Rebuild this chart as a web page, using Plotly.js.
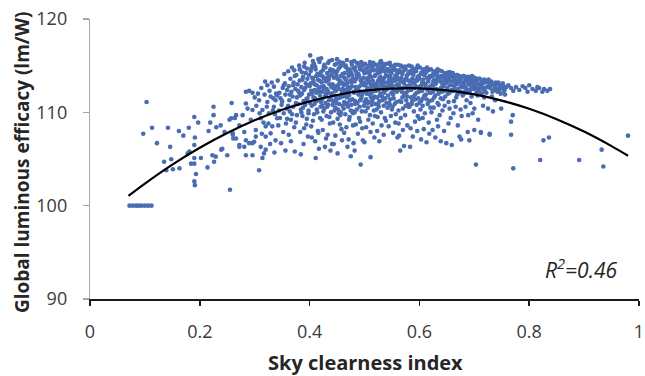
<!DOCTYPE html>
<html>
<head>
<meta charset="utf-8">
<script src="https://cdn.plot.ly/plotly-3.0.1.min.js"></script>
<style>html,body{margin:0;padding:0;background:#fff;}#chart{width:645px;height:376px;}</style>
</head>
<body>
<div id="chart"></div>
<script>
// ---- data (sky clearness index, global luminous efficacy lm/W) ----
const overcastRow = [[0.072,100],[0.078,100],[0.084,100],[0.089,100],[0.094,100],[0.100,100],[0.106,100],[0.112,100]];

const lowSkyPts = [[0.103,111.1],[0.113,108.35],[0.097,107.7],[0.122,106.7],[0.142,108.35],[0.146,106.3],[0.162,108.0],[0.170,107.5],[0.180,108.35],[0.190,109.5],[0.197,108.9],[0.191,107.3],[0.216,108.0],[0.225,110.6],[0.225,109.7],[0.219,108.9],[0.230,108.4],[0.258,111.0],[0.254,109.2],[0.264,109.4],
[0.135,104.7],[0.148,104.97],[0.139,103.8],[0.151,103.9],[0.163,104.0],[0.178,105.6],[0.181,105.8],[0.190,106.5],[0.184,104.5],[0.190,104.5],[0.19,105.1],[0.193,103.4],[0.19,102.6],[0.191,102.2],[0.202,105.1],[0.214,104.1],[0.226,104.7],[0.229,105.25],[0.223,105.4],[0.239,106.0],[0.241,106.1],[0.25,105.4],[0.255,101.7],[0.26,107.6],[0.266,107.2],[0.272,106.5],[0.26,107.75],[0.261,107.2],[0.272,106.3],[0.245,107.9],[0.238,108.6]];

const riseSkyPts = [[0.284,112.2],[0.290,112.3],[0.296,112.1],[0.306,112.0],[0.323,112.9],[0.335,112.75],[0.284,110.95],[0.287,110.4],[0.308,111.3],[0.284,107.0],[0.296,106.7],[0.311,106.3],[0.32,108.5],[0.329,107.75],[0.338,107.0],[0.314,110.25],[0.326,109.9],[0.335,110.6],[0.281,106.3],[0.29,106.7],[0.296,105.4],[0.299,106.85],[0.302,107.4],[0.284,105.4],[0.308,103.8],[0.314,105.1],[0.317,105.6],[0.32,106.0],
[0.257,109.36],[0.266,109.7],[0.272,108.6],[0.281,107.9],[0.293,109.2],[0.302,108.1],[0.311,109.36],[0.32,107.4],[0.332,108.5],[0.341,109.36],[0.278,109.7],[0.296,110.25],[0.323,111.1],[0.338,111.3],[0.329,111.7],
[0.312,112.6],[0.318,111.9],[0.322,110.6],[0.327,112.3],[0.331,113.2],[0.334,111.5],[0.337,109.8],[0.316,108.9],[0.325,108.8],[0.333,110.2],[0.303,110.7],[0.309,109.9],[0.319,113.3],[0.339,112.0],[0.328,106.6],[0.336,105.7],[0.3,111.6],[0.313,107.7]];

const cloudA = [[0.342,113.4],[0.345,112.1],[0.347,111.5],[0.349,110.8],[0.351,112.6],[0.353,109.9],[0.355,113.1],[0.356,111.9],[0.358,110.4],[0.343,108.6],[0.346,109.4],[0.352,107.9],[0.357,108.8],[0.359,112.4],[0.344,110.2],[0.35,111.2],[0.354,114.1],[0.348,106.7],[0.356,105.9],[0.359,109.3],[0.341,111.8],[0.353,112.9],
[0.361,114.4],[0.362,112.8],[0.363,111.3],[0.364,110.1],[0.365,113.6],[0.366,109.2],[0.367,112.2],[0.368,114.8],[0.369,111.7],[0.37,110.6],[0.371,113.2],[0.372,108.4],[0.373,105.8],[0.374,112.5],[0.375,111.0],[0.376,114.0],[0.377,109.7],[0.378,113.0],[0.379,110.9],[0.362,107.6],[0.366,106.9],[0.37,112.9],[0.373,113.9],[0.377,111.6],[0.364,111.9],[0.368,109.8],[0.375,108.9],[0.379,112.3],[0.361,110.7],[0.372,114.5],
[0.381,115.0],[0.382,113.4],[0.383,111.8],[0.384,110.3],[0.385,112.7],[0.386,114.3],[0.387,109.6],[0.388,113.8],[0.389,111.2],[0.39,112.4],[0.391,115.3],[0.392,110.8],[0.393,113.1],[0.394,108.7],[0.395,114.7],[0.396,111.5],[0.397,112.9],[0.398,109.9],[0.399,114.0],[0.381,112.1],[0.383,107.9],[0.385,110.0],[0.387,113.5],[0.389,106.6],[0.391,111.0],[0.393,114.2],[0.395,109.3],[0.397,107.4],[0.399,111.9],[0.382,114.6],[0.384,105.5],[0.386,112.0],[0.388,110.5],[0.39,114.9],[0.392,112.6],[0.394,111.4],[0.396,113.6],[0.398,110.2],[0.4,112.8],[0.39,108.3]];

const cloudB = [[0.401,116.1],[0.402,114.4],[0.403,112.3],[0.404,110.7],[0.405,113.7],[0.406,115.5],[0.407,111.6],[0.408,109.8],[0.409,113.0],[0.41,114.9],[0.411,105.1],[0.412,112.1],[0.413,110.3],[0.414,114.1],[0.415,111.3],[0.416,115.7],[0.417,106.1],[0.418,113.4],[0.419,109.4],[0.42,112.7],[0.401,111.0],[0.403,108.5],[0.405,115.0],[0.407,113.3],[0.409,110.9],[0.411,114.6],[0.413,112.9],[0.415,108.0],[0.417,114.0],[0.419,111.8],[0.402,113.1],[0.404,112.0],[0.406,109.1],[0.408,115.2],[0.41,111.5],[0.412,113.9],[0.414,110.0],[0.416,112.5],[0.418,115.4],[0.42,110.6],[0.404,107.3],[0.41,106.9],[0.416,107.8],[0.406,113.6],[0.412,111.2],[0.418,112.2],[0.403,114.7],[0.409,112.4],[0.415,113.5],[0.42,114.3],
[0.421,115.8],[0.422,113.2],[0.423,111.4],[0.424,114.5],[0.425,110.1],[0.426,112.8],[0.427,115.1],[0.428,106.3],[0.429,113.7],[0.43,111.9],[0.431,109.6],[0.432,114.2],[0.433,112.3],[0.434,110.8],[0.435,113.5],[0.436,115.5],[0.437,108.8],[0.438,105.9],[0.439,112.0],[0.44,114.0],[0.421,111.1],[0.423,113.9],[0.425,112.6],[0.427,110.4],[0.429,114.8],[0.431,112.5],[0.433,107.6],[0.435,111.3],[0.437,114.4],[0.439,110.0],[0.422,109.2],[0.424,112.2],[0.426,114.9],[0.428,111.7],[0.43,113.3],[0.432,110.6],[0.434,115.3],[0.436,113.0],[0.438,111.5],[0.44,112.7],[0.441,106.6],[0.424,108.1],[0.43,107.2],[0.436,109.5],[0.426,113.6],[0.432,112.1],[0.438,114.6],[0.423,110.7],[0.429,111.0],[0.435,113.8]];

const cloudC = [[0.441,115.6],[0.442,113.0],[0.443,111.2],[0.444,106.6],[0.445,114.3],[0.446,112.4],[0.447,110.5],[0.448,113.8],[0.449,115.2],[0.45,111.7],[0.451,109.3],[0.452,112.9],[0.453,114.7],[0.454,110.9],[0.455,113.4],[0.456,111.6],[0.457,115.0],[0.458,108.2],[0.459,112.2],[0.46,114.1],[0.441,112.0],[0.443,114.5],[0.445,110.2],[0.447,112.8],[0.449,111.0],[0.451,113.6],[0.453,112.5],[0.455,115.4],[0.457,110.0],[0.459,113.2],[0.442,110.8],[0.444,112.6],[0.446,115.1],[0.448,111.4],[0.45,114.4],[0.452,110.3],[0.454,113.1],[0.456,114.9],[0.458,111.9],[0.46,112.5],[0.443,108.9],[0.447,107.5],[0.451,105.6],[0.455,108.7],[0.459,107.0],[0.444,113.7],[0.448,112.3],[0.452,111.5],[0.456,109.7],[0.46,110.7],[0.445,111.8],[0.449,114.0],[0.453,109.9],[0.457,113.9],[0.45,115.7],
[0.461,115.3],[0.462,112.9],[0.463,111.1],[0.464,114.2],[0.465,109.8],[0.466,113.5],[0.467,112.1],[0.468,115.6],[0.469,106.3],[0.47,110.6],[0.471,113.9],[0.472,111.8],[0.473,114.6],[0.474,112.6],[0.475,110.2],[0.476,113.2],[0.477,115.1],[0.478,111.4],[0.479,108.6],[0.48,106.7],[0.461,111.7],[0.463,113.7],[0.465,112.4],[0.467,114.8],[0.469,111.0],[0.471,112.3],[0.473,109.5],[0.475,114.3],[0.477,112.8],[0.479,113.6],[0.462,110.4],[0.464,112.0],[0.466,115.0],[0.468,113.1],[0.47,114.5],[0.472,109.2],[0.474,111.3],[0.476,115.4],[0.478,114.0],[0.48,112.2],[0.463,107.8],[0.467,108.4],[0.471,107.1],[0.475,105.3],[0.479,109.9],[0.464,113.0],[0.468,111.6],[0.472,114.1],[0.476,110.8],[0.48,114.7],[0.466,110.9],[0.47,112.7],[0.474,113.4],[0.478,110.1],[0.465,114.9]];

const cloudD = [[0.481,115.5],[0.482,113.3],[0.483,111.2],[0.484,114.4],[0.485,112.5],[0.486,110.3],[0.487,113.8],[0.488,115.2],[0.489,111.9],[0.49,109.4],[0.491,112.8],[0.492,114.6],[0.493,104.4],[0.494,111.5],[0.495,113.1],[0.496,115.0],[0.497,107.0],[0.498,112.2],[0.499,110.7],[0.5,114.2],[0.481,112.1],[0.483,114.8],[0.485,113.6],[0.487,111.0],[0.489,114.1],[0.491,110.6],[0.493,113.4],[0.495,111.8],[0.497,114.5],[0.499,112.9],[0.482,110.0],[0.484,112.7],[0.486,115.3],[0.488,112.4],[0.49,113.9],[0.492,111.3],[0.494,115.4],[0.496,112.0],[0.498,113.7],[0.5,111.1],[0.484,108.7],[0.488,107.7],[0.492,109.0],[0.496,108.3],[0.5,106.8],[0.483,110.9],[0.487,112.6],[0.491,114.9],[0.495,110.1],[0.499,113.2],[0.486,114.0],[0.49,112.3],[0.494,113.5],[0.498,115.1],[0.482,105.9],
[0.501,115.2],[0.502,113.0],[0.503,111.4],[0.504,114.3],[0.505,112.6],[0.506,110.5],[0.507,113.7],[0.508,115.0],[0.509,111.9],[0.51,109.7],[0.511,105.2],[0.512,112.9],[0.513,114.6],[0.514,111.2],[0.515,113.4],[0.516,115.3],[0.517,110.2],[0.518,107.3],[0.519,112.3],[0.52,114.0],[0.501,112.2],[0.503,114.7],[0.505,113.5],[0.507,111.1],[0.509,114.1],[0.511,112.5],[0.513,110.8],[0.515,114.9],[0.517,112.8],[0.519,113.9],[0.502,110.1],[0.504,112.0],[0.506,114.8],[0.508,113.2],[0.51,114.4],[0.512,111.6],[0.514,115.1],[0.516,113.0],[0.518,111.7],[0.52,112.6],[0.503,108.4],[0.507,109.2],[0.511,107.9],[0.515,108.8],[0.519,109.6],[0.504,113.6],[0.508,112.4],[0.512,113.8],[0.516,111.5],[0.52,110.9],[0.505,111.0],[0.509,113.3],[0.513,112.1],[0.517,114.5],[0.51,115.4]];

const cloudE = [[0.521,115.1],[0.522,113.1],[0.523,111.6],[0.524,114.2],[0.525,112.4],[0.526,110.6],[0.527,113.6],[0.528,115.3],[0.529,112.0],[0.53,110.0],[0.531,113.0],[0.532,114.7],[0.533,111.3],[0.534,113.5],[0.535,112.2],[0.536,115.0],[0.537,109.4],[0.538,112.7],[0.539,114.0],[0.54,111.0],[0.521,112.3],[0.523,114.6],[0.525,113.4],[0.527,111.2],[0.529,114.3],[0.531,112.6],[0.533,114.9],[0.535,110.7],[0.537,113.2],[0.539,112.4],[0.522,110.3],[0.524,112.8],[0.526,114.9],[0.528,113.3],[0.53,114.5],[0.532,111.7],[0.534,115.2],[0.536,113.7],[0.538,111.5],[0.54,113.9],[0.523,108.0],[0.527,106.9],[0.531,108.6],[0.535,107.6],[0.539,109.1],[0.524,109.5],[0.528,111.8],[0.532,113.4],[0.536,112.1],[0.54,114.6],[0.525,110.9],[0.529,113.8],[0.533,112.9],[0.537,114.4],[0.53,115.5],
[0.541,115.2],[0.542,113.2],[0.543,111.8],[0.544,114.4],[0.545,112.6],[0.546,110.8],[0.547,113.8],[0.548,115.0],[0.549,112.1],[0.55,110.3],[0.551,113.3],[0.552,114.8],[0.553,111.5],[0.554,113.6],[0.555,112.4],[0.556,115.1],[0.557,109.8],[0.558,112.9],[0.559,114.1],[0.56,107.3],[0.541,112.5],[0.543,114.6],[0.545,113.5],[0.547,111.4],[0.549,114.2],[0.551,112.7],[0.553,114.9],[0.555,110.9],[0.557,113.4],[0.559,112.2],[0.542,110.5],[0.544,112.9],[0.546,115.3],[0.548,113.4],[0.55,114.5],[0.552,111.9],[0.554,114.7],[0.556,113.9],[0.558,111.1],[0.56,113.7],[0.544,108.5],[0.548,109.6],[0.552,107.8],[0.556,108.9],[0.545,111.0],[0.549,113.0],[0.553,112.3],[0.557,114.5],[0.543,113.9],[0.551,110.6]];

const cloudF = [[0.561,115.1],[0.562,113.0],[0.563,107.5],[0.564,114.3],[0.565,105.9],[0.566,112.5],[0.567,113.7],[0.568,114.9],[0.569,111.6],[0.57,110.4],[0.571,113.2],[0.572,106.4],[0.573,112.0],[0.574,113.5],[0.575,114.6],[0.576,111.3],[0.577,112.8],[0.578,114.0],[0.579,110.9],[0.58,113.4],[0.561,112.4],[0.563,114.5],[0.565,113.4],[0.567,111.1],[0.569,114.1],[0.571,112.6],[0.573,114.8],[0.575,110.7],[0.577,113.9],[0.579,112.3],[0.562,110.2],[0.564,112.7],[0.566,115.0],[0.568,113.3],[0.57,114.4],[0.572,111.8],[0.574,114.9],[0.576,113.6],[0.578,111.7],[0.58,114.2],[0.562,108.8],[0.566,109.4],[0.57,108.1],[0.574,109.7],[0.578,108.6],[0.564,111.2],[0.568,112.2],[0.572,113.1],[0.576,112.1],[0.58,110.6],
[0.581,115.0],[0.582,112.9],[0.583,106.3],[0.584,114.2],[0.585,112.4],[0.586,110.9],[0.587,113.6],[0.588,114.7],[0.589,111.7],[0.59,110.1],[0.591,113.1],[0.592,114.5],[0.593,111.4],[0.594,113.5],[0.595,112.1],[0.596,114.8],[0.597,109.6],[0.598,112.7],[0.599,113.9],[0.6,111.0],[0.581,112.5],[0.583,114.4],[0.585,113.3],[0.587,111.2],[0.589,114.0],[0.591,112.6],[0.593,114.6],[0.595,110.8],[0.597,113.8],[0.599,112.2],[0.582,110.6],[0.584,112.8],[0.586,114.9],[0.588,113.2],[0.59,114.3],[0.592,111.9],[0.594,114.4],[0.596,113.4],[0.598,111.5],[0.6,113.6],[0.584,108.3],[0.588,107.4],[0.592,109.0],[0.596,108.0],[0.6,109.3],[0.585,111.6],[0.593,112.8],[0.597,115.0]];

const cloudG = [[0.601,114.8],[0.602,112.8],[0.603,111.2],[0.604,114.1],[0.605,112.3],[0.606,110.7],[0.607,113.5],[0.608,114.6],[0.609,111.8],[0.61,109.9],[0.611,113.0],[0.612,114.3],[0.613,111.4],[0.614,113.7],[0.615,112.4],[0.616,114.5],[0.617,108.9],[0.618,112.7],[0.619,113.9],[0.62,110.5],[0.601,112.3],[0.603,114.2],[0.605,113.2],[0.607,111.5],[0.609,114.0],[0.611,112.6],[0.613,114.7],[0.615,110.9],[0.617,113.6],[0.619,112.1],[0.602,110.3],[0.604,112.9],[0.606,114.4],[0.608,113.1],[0.61,114.2],[0.612,111.9],[0.614,114.8],[0.616,113.3],[0.618,111.2],[0.62,113.8],[0.603,107.1],[0.608,108.2],[0.613,106.8],[0.618,107.7],[0.606,109.4],
[0.621,114.6],[0.622,112.9],[0.623,111.3],[0.624,114.0],[0.625,112.2],[0.626,110.5],[0.627,113.5],[0.628,114.4],[0.629,111.8],[0.63,113.1],[0.631,112.5],[0.632,114.2],[0.633,111.0],[0.634,113.7],[0.635,112.0],[0.636,114.5],[0.637,109.7],[0.638,113.3],[0.639,112.6],[0.64,113.9],[0.621,112.1],[0.623,113.9],[0.625,113.3],[0.627,111.6],[0.629,114.1],[0.631,113.4],[0.633,114.6],[0.635,110.8],[0.637,113.8],[0.639,111.5],[0.622,110.0],[0.624,112.7],[0.626,114.3],[0.628,113.0],[0.63,114.0],[0.632,109.2],[0.634,112.4],[0.636,113.6],[0.624,108.1],[0.629,107.3],[0.634,108.5],[0.639,106.9]];

const cloudH = [[0.641,114.4],[0.642,113.0],[0.643,111.4],[0.644,113.8],[0.645,112.3],[0.646,110.7],[0.647,113.5],[0.648,114.2],[0.649,106.7],[0.65,113.2],[0.651,112.6],[0.652,114.0],[0.653,111.1],[0.654,113.6],[0.655,112.1],[0.656,114.3],[0.657,109.4],[0.658,113.3],[0.659,106.5],[0.66,113.9],[0.641,112.2],[0.643,113.7],[0.645,113.4],[0.647,111.7],[0.649,114.1],[0.651,113.5],[0.653,114.3],[0.655,110.4],[0.657,113.8],[0.659,112.4],[0.642,110.2],[0.644,112.8],[0.646,114.1],[0.648,113.1],[0.65,113.7],[0.652,112.0],[0.654,114.2],[0.656,112.9],[0.645,108.0],[0.653,108.8],
[0.661,114.2],[0.662,112.9],[0.663,111.2],[0.664,113.7],[0.665,112.4],[0.666,110.6],[0.667,113.4],[0.668,114.0],[0.669,111.9],[0.67,113.1],[0.671,112.5],[0.672,113.8],[0.673,107.4],[0.674,113.5],[0.675,112.2],[0.676,107.1],[0.677,109.6],[0.678,113.2],[0.679,112.7],[0.68,113.9],[0.661,112.3],[0.663,113.6],[0.665,113.3],[0.667,111.6],[0.669,114.0],[0.671,113.4],[0.673,113.9],[0.675,110.3],[0.677,113.7],[0.679,111.8],[0.662,109.9],[0.664,112.6],[0.666,113.9],[0.668,113.0],[0.67,108.6],[0.672,112.1],[0.674,113.3],[0.676,112.8]];

const cloudI = [[0.681,113.9],[0.682,112.9],[0.683,112.2],[0.684,113.5],[0.685,112.6],[0.686,111.3],[0.687,113.3],[0.688,113.8],[0.689,112.4],[0.69,113.0],[0.691,107.0],[0.692,113.6],[0.693,111.0],[0.694,113.2],[0.695,112.7],[0.696,113.9],[0.697,109.9],[0.698,113.1],[0.699,112.5],[0.7,113.5],[0.681,112.0],[0.683,113.3],[0.685,113.7],[0.687,112.1],[0.689,109.7],[0.691,113.4],[0.693,113.8],[0.695,111.7],[0.697,113.4],[0.699,112.9],[0.684,110.6],[0.688,107.9],[0.692,112.3],[0.696,112.8],[0.7,110.4],
[0.701,113.7],[0.702,112.8],[0.703,104.4],[0.704,113.3],[0.705,112.5],[0.706,111.8],[0.707,109.2],[0.708,113.6],[0.709,112.2],[0.71,113.0],[0.711,112.7],[0.712,107.8],[0.713,113.4],[0.714,112.0],[0.715,113.1],[0.716,110.7],[0.717,112.6],[0.718,113.5],[0.719,112.3],[0.72,113.2],[0.702,113.4],[0.704,112.1],[0.706,113.0],[0.708,112.4],[0.71,113.6],[0.712,112.9],[0.714,113.3],[0.716,112.5],[0.718,111.6],[0.7,108.1],
[0.721,113.4],[0.723,112.7],[0.725,110.4],[0.727,113.1],[0.728,107.7],[0.729,112.6],[0.731,113.3],[0.733,112.2],[0.734,110.1],[0.735,113.0],[0.737,112.8],[0.739,113.2],[0.741,112.5],[0.743,113.0],[0.745,112.4],[0.747,112.9],[0.749,110.4],[0.75,112.6],[0.752,113.1],[0.754,112.3],[0.722,112.1],[0.726,113.5],[0.73,112.9],[0.732,111.7],[0.736,112.4],[0.738,111.3],[0.742,112.2],[0.744,113.2],[0.748,112.0],[0.753,112.8],[0.756,111.9],[0.758,112.7]];

const clearTailPts = [[0.746,112.6],[0.755,112.4],[0.767,112.6],[0.776,112.7],[0.782,112.4],[0.788,112.8],[0.797,112.2],[0.806,112.5],[0.812,112.3],[0.818,112.6],[0.827,112.5],[0.833,112.3],[0.762,112.9],[0.771,112.3],[0.793,112.6],[0.8,112.9],[0.815,112.7],[0.824,112.2],[0.838,112.5],
[0.77,109.7],[0.767,109.0],[0.767,107.6],[0.771,104.0],[0.82,104.9],[0.826,107.0],[0.836,107.3],[0.891,104.9],[0.932,106.0],[0.935,104.2],[0.98,107.5],[0.712,107.9],[0.728,107.6]];

// fitted 2nd-order trend line
const fitX = [0.07,0.1,0.15,0.2,0.25,0.3,0.35,0.4,0.45,0.5,0.55,0.6,0.65,0.7,0.75,0.8,0.85,0.9,0.95,0.98];
const fitY = [101.05,102.37,104.40,106.20,107.78,109.14,110.27,111.17,111.86,112.32,112.55,112.57,112.35,111.92,111.26,110.38,109.27,107.94,106.38,105.35];

const xTicks = [0,0.2,0.4,0.6,0.8,1];
const xTickText = ['0','0.2','0.4','0.6','0.8','1'];
const yTicks = [90,100,110,120];

const allPts = [].concat(overcastRow, lowSkyPts, riseSkyPts, cloudA, cloudB, cloudC, cloudD, cloudE, cloudF, cloudG, cloudH, cloudI, clearTailPts);

const traces = [
  {
    type: 'scatter', mode: 'markers',
    x: allPts.map(p => p[0]), y: allPts.map(p => p[1]),
    marker: {size: 4.6, color: '#4a6cb3'},
    hoverinfo: 'skip', showlegend: false
  },
  {
    type: 'scatter', mode: 'lines',
    x: fitX, y: fitY,
    line: {color: '#000000', width: 2.2, shape: 'spline'},
    hoverinfo: 'skip', showlegend: false
  }
];

const tickFont = {family: 'Open Sans, sans-serif', size: 18, color: '#3a3a3a'};
const plotW = 645 - 90 - 6;

const layout = {
  width: 645, height: 376,
  margin: {l: 90, r: 6, t: 19, b: 77, pad: 0},
  paper_bgcolor: '#ffffff', plot_bgcolor: '#ffffff',
  showlegend: false,
  xaxis: {
    range: [0, 1], tickvals: xTicks, ticktext: xTickText,
    showgrid: false, zeroline: false,
    showline: true, linecolor: '#1a1a1a', linewidth: 2,
    ticks: 'outside', ticklen: 5, tickwidth: 1.6, tickcolor: '#1a1a1a',
    tickfont: tickFont, ticklabelstandoff: 10, ticklabeloverflow: 'allow',
    fixedrange: true
  },
  yaxis: {
    range: [90, 120], tickvals: yTicks,
    showgrid: false, zeroline: false,
    showline: true, linecolor: '#a6a6a6', linewidth: 1.2,
    ticks: 'outside', ticklen: 6, tickwidth: 1.2, tickcolor: '#a6a6a6',
    tickfont: tickFont, ticklabelstandoff: 12,
    fixedrange: true
  },
  annotations: [
    {
      text: '<b>Sky clearness index</b>', xref: 'paper', yref: 'paper',
      x: (365 - 90) / plotW, y: (299 - 362) / 280, xanchor: 'center', yanchor: 'middle',
      showarrow: false, font: {family: 'Open Sans, sans-serif', size: 20, color: '#262626'}
    },
    {
      text: '<b>Global luminous efficacy (lm/W)</b>', xref: 'paper', yref: 'paper',
      x: (22 - 90) / plotW, y: (299 - 163) / 280, xanchor: 'center', yanchor: 'middle',
      textangle: -90, showarrow: false,
      font: {family: 'Open Sans, sans-serif', size: 19, color: '#262626'}
    },
    {
      text: '<i>R<sup>2</sup>=0.46</i>', xref: 'paper', yref: 'paper',
      x: (581 - 90) / plotW, y: (299 - 268) / 280, xanchor: 'center', yanchor: 'middle',
      showarrow: false,
      font: {family: 'Open Sans, sans-serif', size: 21, color: '#262626', style: 'italic'}
    }
  ]
};

Plotly.newPlot('chart', traces, layout, {staticPlot: true, displayModeBar: false});
</script>
</body>
</html>
